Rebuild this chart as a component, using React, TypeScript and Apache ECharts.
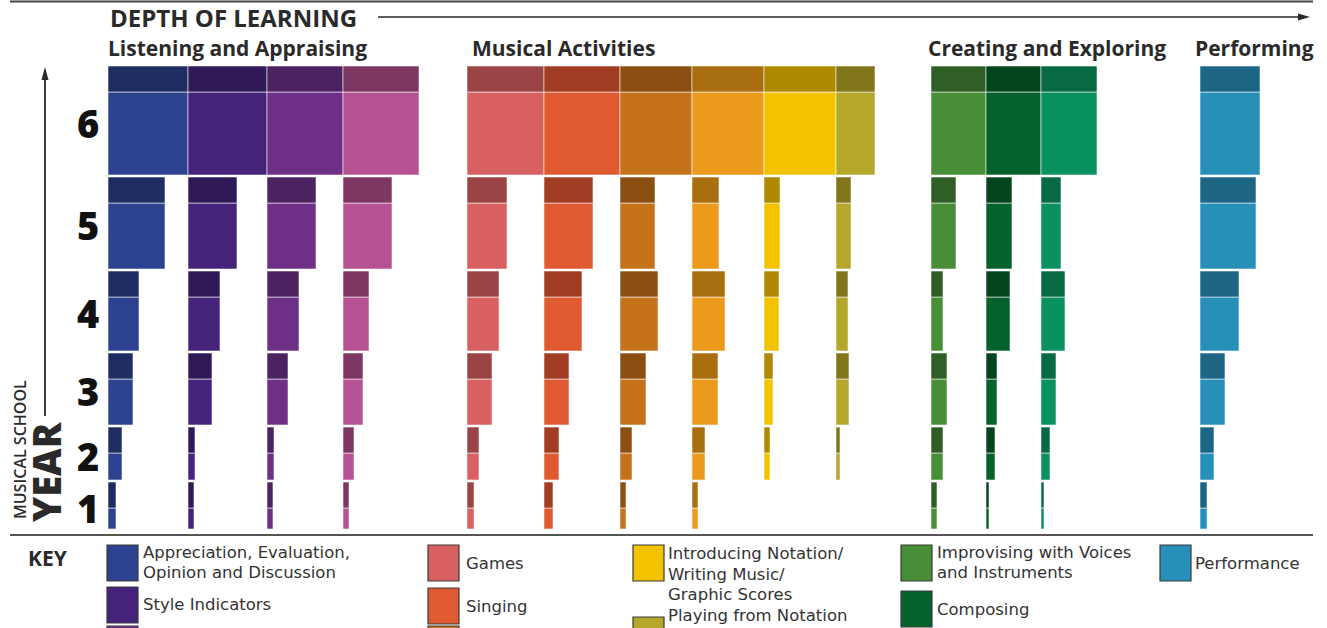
import React, { useEffect, useRef } from "react";
import * as echarts from "echarts";

// ---------- DATA ----------
const CATEGORIES = [
  "Appreciation, Evaluation,\nOpinion and Discussion",
  "Style Indicators",
  "Musical Dimensions",
  "Musical Vocabulary",
  "Games",
  "Singing",
  "Playing Instruments",
  "Warm-ups",
  "Introducing Notation/\nWriting Music/\nGraphic Scores",
  "Playing from Notation",
  "Improvising with Voices\nand Instruments",
  "Composing",
  "Exploring Sounds",
  "Performance",
];
const GROUPS = ["Listening and Appraising", "Musical Activities", "Creating and Exploring", "Performing"];
const GROUP_OF = [0, 0, 0, 0, 1, 1, 1, 1, 1, 1, 2, 2, 2, 3];
const YEARS = ["1", "2", "3", "4", "5", "6"];

// depth of learning per year (bar widths)
const YEAR1 = [8, 6, 6, 6, 7, 9, 6, 6, 0, 0, 6, 3, 3, 7];
const YEAR2 = [14, 7, 7, 11, 12, 15, 12, 13, 6, 4, 12, 9, 9, 14];
const YEAR3 = [25, 24, 21, 20, 25, 25, 26, 26, 9, 13, 16, 11, 15, 25];
const YEAR4 = [31, 32, 32, 26, 32, 38, 38, 33, 15, 12, 12, 24, 24, 39];
const YEAR5 = [57, 49, 49, 49, 40, 49, 35, 27, 16, 15, 25, 26, 20, 56];
const YEAR6 = [80, 79, 76, 76, 77, 76, 72, 72, 72, 39, 55, 55, 56, 60];
// breadth of each year's row
const BREADTH = [21, 27, 46, 54, 66, 83];

const LIGHT = ["#2c4290", "#46237a", "#6e3087", "#b65293", "#d96061", "#e05a31", "#c6721b", "#eb9a1b", "#f4c300", "#b4a72a", "#478e37", "#05622d", "#0a9160", "#2790b9"];
const DARK = ["#1f2d63", "#2f1956", "#4d2261", "#7c3762", "#9b4445", "#a03d23", "#8b5011", "#a86e0f", "#af8900", "#817619", "#305f26", "#03461e", "#076a43", "#1c6584"];

// ---------- LAYOUT ----------
const BAND = 26;
const ROW_GAP = 2;
const GROUP_GAP = [0, 48, 56, 103];
const FONT = '"Open Sans", "Noto Sans", sans-serif';
const LEGEND_FAMILY = '"DejaVu Sans", "Open Sans", sans-serif';
const LEGEND_FONT = 16.5;
const LEGEND_STEP = 20.5;

const DEPTH = [YEAR1, YEAR2, YEAR3, YEAR4, YEAR5, YEAR6];

const starts: number[] = [];
let acc = 0;
let prevGroup = -1;
for (let c = 0; c < CATEGORIES.length; c++) {
  if (GROUP_OF[c] !== prevGroup) {
    acc += GROUP_GAP[GROUP_OF[c]];
    prevGroup = GROUP_OF[c];
  }
  starts.push(acc);
  acc += YEAR6[c];
}
const X_MAX = acc;

const rowBottom: number[] = [];
let yb = 0;
for (let y = 0; y < YEARS.length; y++) {
  rowBottom.push(yb);
  yb += BREADTH[y] + BAND + ROW_GAP;
}
const Y_MAX = yb - ROW_GAP;

const barData: number[][] = [];
for (let y = 0; y < YEARS.length; y++) {
  for (let c = 0; c < CATEGORIES.length; c++) {
    if (DEPTH[y][c] > 0) barData.push([starts[c], DEPTH[y][c], rowBottom[y], BREADTH[y], c]);
  }
}
const yearLabelData = YEARS.map((_, i) => [-20, rowBottom[i] + (BREADTH[i] + BAND) / 2]);

// legend layout: [category, swatchX, swatchY, textX, textCenterY, showText]
const LEGEND_LAYOUT: number[][] = [
  [0, 107, 545, 143, 562.5, 1],
  [1, 107, 587, 143, 604, 1],
  [2, 107, 626, 143, 644, 0],
  [4, 428, 545, 466, 563, 1],
  [5, 428, 588, 466, 606, 1],
  [6, 428, 626, 466, 644, 0],
  [8, 633, 545, 668, 574, 1],
  [9, 633, 617, 668, 615.5, 1],
  [10, 901, 545, 937, 562.5, 1],
  [11, 901, 591, 937, 609, 1],
  [13, 1160, 545, 1195, 563, 1],
];

function buildGraphic() {
  const els: any[] = [];
  const dark = "#2a2a2a";
  els.push({ type: "line", shape: { x1: 10, y1: 1.5, x2: 1313, y2: 1.5 }, style: { stroke: "#444", lineWidth: 2 } });
  els.push({ type: "line", shape: { x1: 10, y1: 535, x2: 1313, y2: 535 }, style: { stroke: "#555", lineWidth: 2 } });
  els.push({
    type: "text", x: 110, y: 17,
    style: { text: "DEPTH OF LEARNING", font: `bold 24px ${FONT}`, fill: dark, textVerticalAlign: "middle" },
  });
  els.push({ type: "line", shape: { x1: 378, y1: 17, x2: 1300, y2: 17 }, style: { stroke: dark, lineWidth: 1.5 } });
  els.push({ type: "polygon", shape: { points: [[1310, 17], [1298, 13.5], [1298, 20.5]] }, style: { fill: dark } });
  const groupX = [108, 472, 928, 1195];
  GROUPS.forEach((g, i) => {
    els.push({
      type: "text", x: groupX[i], y: 48,
      style: { text: g, font: `bold 21px ${FONT}`, fill: dark, textVerticalAlign: "middle" },
    });
  });
  // vertical axis arrow
  els.push({ type: "line", shape: { x1: 45, y1: 416, x2: 45, y2: 78 }, style: { stroke: dark, lineWidth: 1.8 } });
  els.push({ type: "polygon", shape: { points: [[45, 67], [41.5, 80], [48.5, 80]] }, style: { fill: dark } });
  els.push({
    type: "text", x: 20, y: 519, rotation: Math.PI / 2,
    style: { text: "MUSICAL SCHOOL", font: `600 16px ${FONT}`, fill: dark, textVerticalAlign: "middle", textAlign: "left" },
  });
  els.push({
    type: "text", x: 46, y: 522, rotation: Math.PI / 2,
    style: { text: "YEAR", font: `800 38px ${FONT}`, fill: dark, textVerticalAlign: "middle", textAlign: "left" },
  });
  // key
  els.push({
    type: "text", x: 28, y: 558,
    style: { text: "KEY", font: `bold 21px ${FONT}`, fill: dark, textVerticalAlign: "middle" },
  });
  LEGEND_LAYOUT.forEach(([c, sx, sy, tx, ty, show]) => {
    els.push({
      type: "rect", shape: { x: sx, y: sy, width: 31, height: 36 },
      style: { fill: LIGHT[c], stroke: "#3a3a3a", lineWidth: 1.2 },
    });
    if (!show) return;
    const lines = CATEGORIES[c].split("\n");
    const first = ty - ((lines.length - 1) * LEGEND_STEP) / 2;
    lines.forEach((line, k) => {
      els.push({
        type: "text", x: tx, y: first + k * LEGEND_STEP,
        style: { text: line, font: `${LEGEND_FONT}px ${LEGEND_FAMILY}`, fill: "#333", textVerticalAlign: "middle" },
      });
    });
  });
  return els;
}

export default function App() {
  const ref = useRef<HTMLDivElement>(null);
  useEffect(() => {
    if (!ref.current) return;
    const chart = echarts.init(ref.current, null, { renderer: "svg" });
    chart.setOption({
      animation: false,
      backgroundColor: "#ffffff",
      textStyle: { fontFamily: FONT },
      grid: { left: 108, top: 66, width: X_MAX, height: Y_MAX },
      xAxis: { type: "value", min: 0, max: X_MAX, show: false },
      yAxis: { type: "value", min: 0, max: Y_MAX, show: false },
      series: [
        {
          type: "custom",
          name: "depth",
          data: barData,
          encode: { x: 0, y: 2 },
          renderItem: (_params: any, api: any) => {
            const x0 = api.value(0);
            const w = api.value(1);
            const b = api.value(2);
            const h = api.value(3);
            const c = api.value(4);
            const pA = api.coord([x0, b]);
            const pB = api.coord([x0 + w, b + h]);
            const pC = api.coord([x0 + w, b + h + BAND]);
            const width = pB[0] - pA[0];
            return {
              type: "group",
              children: [
                {
                  type: "rect",
                  shape: { x: pA[0], y: pB[1], width, height: pA[1] - pB[1] },
                  style: { fill: LIGHT[c], stroke: "rgba(255,255,255,0.55)", lineWidth: 1 },
                },
                {
                  type: "rect",
                  shape: { x: pA[0], y: pC[1], width, height: pB[1] - pC[1] },
                  style: { fill: DARK[c], stroke: "rgba(255,255,255,0.55)", lineWidth: 1 },
                },
              ],
            };
          },
        },
        {
          type: "custom",
          name: "years",
          data: yearLabelData,
          encode: { x: 0, y: 1 },
          clip: false,
          renderItem: (params: any, api: any) => {
            const p = api.coord([api.value(0), api.value(1)]);
            return {
              type: "text",
              x: p[0],
              y: p[1] + 2,
              style: {
                text: YEARS[params.dataIndex],
                font: `800 38px ${FONT}`,
                fill: "#111",
                textAlign: "center",
                textVerticalAlign: "middle",
              },
            };
          },
        },
      ],
      graphic: { elements: buildGraphic() },
    });
    return () => chart.dispose();
  }, []);
  return <div ref={ref} style={{ position: "absolute", left: 0, top: 0, width: 1327, height: 628 }} />;
}
